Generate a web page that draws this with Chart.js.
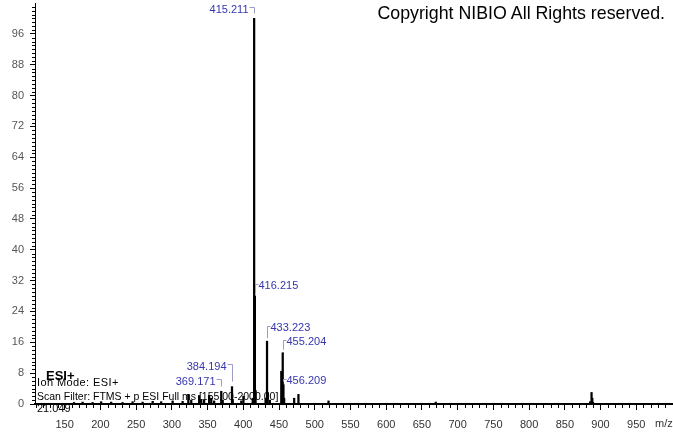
<!DOCTYPE html>
<html>
<head>
<meta charset="utf-8">
<script src="https://cdn.jsdelivr.net/npm/chart.js@4.4.0/dist/chart.umd.min.js"></script>
<style>
  html, body { margin: 0; padding: 0; background: #fff; }
  #wrap { position: relative; width: 673px; height: 433px; font-family: 'Liberation Sans', Arial, sans-serif; }
  #spec { position: absolute; left: 0; top: 0; }
  .txt { position: absolute; color: #000; white-space: nowrap; line-height: 1; }
</style>
</head>
<body>
<div id="wrap">
  <canvas id="spec" width="673" height="433"></canvas>
  <div class="txt" style="right:8px;top:5px;font-size:17.8px">Copyright NIBIO All Rights reserved.</div>
  <div class="txt" style="left:46px;top:369px;font-size:13px;font-weight:bold">ESI+</div>
  <div class="txt" style="left:37px;top:377px;font-size:11px;letter-spacing:0.4px">Ion Mode: ESI+</div>
  <div class="txt" style="left:37px;top:391px;font-size:10.5px">Scan Filter: FTMS + p ESI Full ms [155.00-2000.00]</div>
  <div class="txt" style="left:37px;top:403px;font-size:11px">21.049</div>
</div>
<script>
/* ── spectrum data (m/z, relative abundance) ── */
const mzValues = [163.1, 175.1, 189.1, 201.1, 215.1, 231.1, 245.1, 259.1, 273.2, 285.1,
  301.1, 315.1, 323.1, 327.2, 338.2, 341.2, 345.2, 352.2, 355.2, 359.2,
  369.171, 371.2, 384.194, 385.2, 397.2, 400.2, 413.2, 415.211, 416.215, 417.2,
  431.2, 433.223, 434.2, 437.2, 453.2, 454.2, 455.204, 456.209, 457.2, 471.2,
  477.2, 519.3, 669.4, 885.4, 887.4, 888.4, 889.4];
const abundance = [0.4, 0.5, 0.4, 0.6, 0.5, 0.4, 0.6, 0.5, 0.7, 0.6,
  0.8, 0.7, 2.5, 1.0, 2.2, 1.2, 1.0, 2.2, 1.5, 0.8,
  3.3, 1.0, 4.5, 1.2, 0.8, 2.0, 1.5, 100, 28, 3.5,
  1.5, 16.3, 3.0, 1.0, 8.5, 2.0, 13.3, 5.0, 1.5, 1.5,
  2.5, 0.8, 0.5, 0.6, 3.0, 1.5, 0.5];

/* labelled peaks */
const peakLabels = ['415.211', '416.215', '433.223', '455.204', '456.209', '384.194', '369.171'];
const peakLabelLevel = [102.8, 31.2, 20.3, 16.6, 6.5, 10.1, 6.2];   // abundance units
const peakLabelSide = ['left', 'right', 'right', 'right', 'right', 'left', 'left'];

const xTicks = [150, 200, 250, 300, 350, 400, 450, 500, 550, 600, 650, 700, 750, 800, 850, 900, 950];
const yTicks = [0, 8, 16, 24, 32, 40, 48, 56, 64, 72, 80, 88, 96];

const FONT = "'Liberation Sans', Arial, sans-serif";

// minor ticks, peak annotations and the m/z caption
const decorations = {
  id: 'decorations',
  afterDraw(chart) {
    const { ctx, scales: { x, y }, chartArea: a } = chart;
    ctx.save();
    ctx.strokeStyle = '#000';
    ctx.lineWidth = 1;
    ctx.beginPath();
    for (let v = 110; v <= 1000; v += 10) {
      if (v % 50 === 0) continue;
      const px = Math.round(x.getPixelForValue(v)) + 0.5;
      ctx.moveTo(px, a.bottom + 1); ctx.lineTo(px, a.bottom + 4);
    }
    for (let v = 1; v <= 103; v++) {
      if (v % 8 === 0) continue;
      const py = Math.round(y.getPixelForValue(v)) + 0.5;
      ctx.moveTo(a.left - 3, py); ctx.lineTo(a.left, py);
    }
    ctx.stroke();

    // peak labels
    ctx.font = '11px ' + FONT;
    ctx.textBaseline = 'middle';
    peakLabels.forEach((lbl, i) => {
      const mz = parseFloat(lbl);
      const h = abundance[mzValues.indexOf(mz)];
      const px = Math.round(x.getPixelForValue(mz)) + 0.5;
      const top = y.getPixelForValue(h);
      const ly = Math.round(y.getPixelForValue(peakLabelLevel[i])) + 0.5;
      ctx.strokeStyle = '#9c9cc4';
      ctx.beginPath();
      if (peakLabelSide[i] === 'left') {
        ctx.moveTo(px - 5, ly - 1); ctx.lineTo(px, ly - 1); ctx.lineTo(px, top - 5);
        ctx.stroke();
        ctx.fillStyle = '#3535b0';
        ctx.textAlign = 'right';
        ctx.fillText(lbl, px - 6, ly + 1);
      } else {
        ctx.moveTo(px + 3, ly); ctx.lineTo(px, ly); ctx.lineTo(px, top - 3);
        ctx.stroke();
        ctx.fillStyle = '#3535b0';
        ctx.textAlign = 'left';
        ctx.fillText(lbl, px + 3, ly + 1);
      }
    });

    ctx.fillStyle = '#333';
    ctx.textAlign = 'left';
    ctx.fillText('m/z', 655, 424);
    ctx.restore();
  }
};

new Chart(document.getElementById('spec'), {
  type: 'bar',
  data: {
    datasets: [{
      data: mzValues.map((m, i) => ({ x: m, y: abundance[i] })),
      backgroundColor: '#000',
      barThickness: 1.6,
    }]
  },
  options: {
    responsive: false, animation: false, devicePixelRatio: 1,
    layout: { padding: { top: 3, right: 1, left: 0, bottom: 0 } },
    plugins: { legend: { display: false }, tooltip: { enabled: false } },
    scales: {
      x: {
        type: 'linear', min: 108.5, max: 1000, offset: false,
        afterBuildTicks: s => { s.ticks = xTicks.map(v => ({ value: v })); },
        afterFit: s => { s.height = 29; s.paddingLeft = 0; s.paddingRight = 0; },
        ticks: { font: { family: FONT, size: 11 }, color: '#333', maxRotation: 0, autoSkip: false, padding: 8 },
        grid: { drawOnChartArea: false, tickLength: 6, color: '#000', offset: false },
        border: { color: '#000', width: 2 },
      },
      y: {
        min: 0, max: 104,
        afterBuildTicks: s => { s.ticks = yTicks.map(v => ({ value: v })); },
        afterFit: s => { s.width = 35; s.paddingTop = 0; s.paddingBottom = 0; },
        ticks: { font: { family: FONT, size: 11 }, color: '#555', padding: 6 },
        grid: { drawOnChartArea: false, tickLength: 5, color: '#000' },
        border: { color: '#000', width: 1 },
      }
    }
  },
  plugins: [decorations]
});
</script>
</body>
</html>
